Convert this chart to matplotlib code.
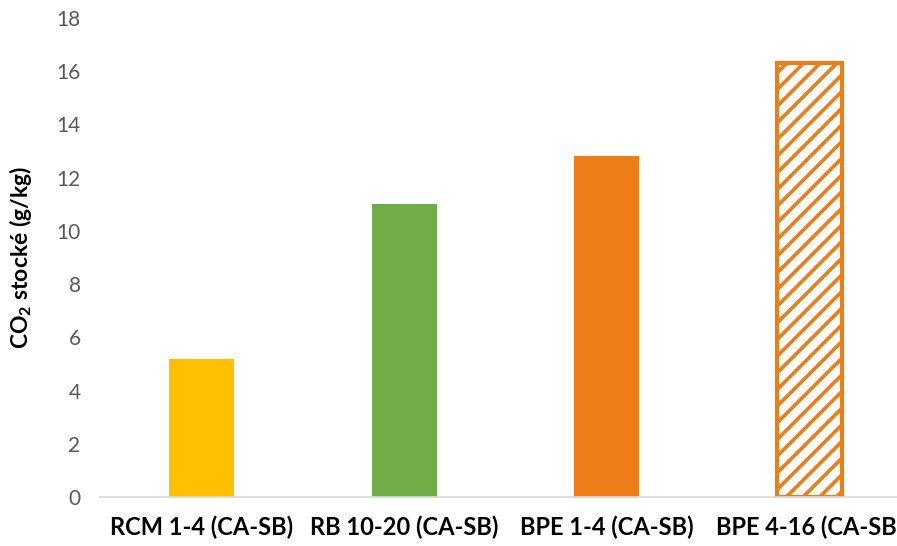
import matplotlib.pyplot as plt

# Données
categories = ['RCM 1-4 (CA-SB)', 'RB 10-20 (CA-SB)', 'BPE 1-4 (CA-SB)', 'BPE 4-16 (CA-SB)']
valeurs = [5.2, 11.0, 12.8, 16.3]
couleurs = ['#FFC000', '#70AD47', '#EC7D17', 'white']

plt.rcParams['font.family'] = ['Lato', 'DejaVu Sans']
plt.rcParams['mathtext.fontset'] = 'custom'
plt.rcParams['mathtext.rm'] = 'Lato'
plt.rcParams['mathtext.bf'] = 'Lato:bold'
plt.rcParams['hatch.linewidth'] = 2.6

fig = plt.figure(figsize=(8.97, 5.46), dpi=100)
ax = fig.add_axes([100 / 897, 49 / 546, 811 / 897, 479 / 546])

x = range(len(categories))
barres = ax.bar(x, valeurs, width=0.32, color=couleurs)
# dernière barre hachurée
b = barres[-1]
b.set_edgecolor('#EC7D17')
b.set_hatch('//')
b.set_linewidth(3)

ax.set_xlim(-0.5, 3.5)
ax.set_ylim(0, 18)
ax.set_yticks(range(0, 19, 2))
ax.set_xticks(list(x))
ax.set_xticklabels(categories, fontsize=17, fontweight='bold')
ax.tick_params(axis='y', labelsize=15, labelcolor='#595959', length=0, pad=14)
ax.tick_params(axis='x', length=0, pad=13)

for s in ['top', 'right', 'left']:
    ax.spines[s].set_visible(False)
ax.spines['bottom'].set_color('#D9D9D9')
ax.spines['bottom'].set_linewidth(1.2)

ax.set_ylabel(r'CO$_\mathbf{2}$ stocké (g/kg)', fontsize=16.5, fontweight='bold', labelpad=16)

fig.savefig('out.png', dpi=100)
